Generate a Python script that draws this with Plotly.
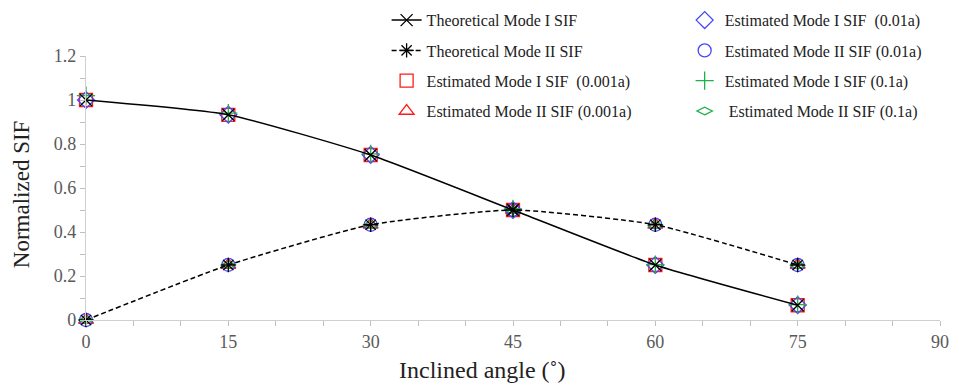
import plotly.graph_objects as go

angles = [0, 15, 30, 45, 60, 75]
theo_mode1 = [1.0, 0.933, 0.75, 0.5, 0.25, 0.067]
theo_mode2 = [0.0, 0.25, 0.433, 0.5, 0.433, 0.25]
est1_0001 = [1.0, 0.932, 0.75, 0.5, 0.25, 0.067]
est2_0001 = [0.0, 0.25, 0.433, 0.5, 0.433, 0.25]
est1_001 = [1.0, 0.933, 0.751, 0.5, 0.25, 0.068]
est2_001 = [0.0, 0.251, 0.433, 0.5, 0.433, 0.25]
est1_01 = [1.02, 0.94, 0.755, 0.505, 0.252, 0.07]
est2_01 = [0.0, 0.25, 0.432, 0.498, 0.43, 0.248]

FONT = "Liberation Serif"
fig = go.Figure()

def add(name, y, symbol, color, size, legend, group, rank, line=None, lw=1.3):
    mode = "lines+markers" if line else "markers"
    fig.add_trace(go.Scatter(
        x=angles, y=y, name=name, mode=mode, legend=legend, legendgroup=group, legendrank=rank,
        line=dict(color="black", width=1.5, dash=line, shape="spline", smoothing=0.5) if line else None,
        marker=dict(symbol=symbol, size=size, color=color, line=dict(color=color, width=lw)),
        cliponaxis=False))

add("Estimated Mode I SIF  (0.001a)", est1_0001, "square-open", "#ff1a1a", 13, "legend", "c", 3)
add("Estimated Mode II SIF (0.001a)", est2_0001, "triangle-up-open", "#ff1a1a", 13, "legend", "d", 4)
add("Estimated Mode I SIF  (0.01a)", est1_001, "diamond-open", "#4646ff", 13, "legend2", "e", 1)
add("Estimated Mode II SIF (0.01a)", est2_001, "circle-open", "#4646ff", 13, "legend2", "f", 2)
add("Estimated Mode I SIF (0.1a)", est1_01, "cross-thin-open", "#1fb04a", 13, "legend2", "g", 3)
add(" Estimated Mode II SIF (0.1a)", est2_01, "diamond-wide-open", "#1fb04a", 11, "legend2", "h", 4)
add("Theoretical Mode I SIF", theo_mode1, "x-thin-open", "black", 12, "legend", "a", 1, line="solid")
add("Theoretical Mode II SIF", theo_mode2, "asterisk-open", "black", 12, "legend", "b", 2, line="5px,3px")

legend_common = dict(font=dict(family=FONT, size=16, color="#222"), bgcolor="rgba(0,0,0,0)",
                     tracegroupgap=6.5, yanchor="top", xanchor="left", traceorder="grouped",
                     itemwidth=30)
fig.update_layout(
    width=951, height=377,
    margin=dict(l=78, r=19, t=48, b=65, autoexpand=False),
    paper_bgcolor="white", plot_bgcolor="white",
    font=dict(family=FONT),
    legend=dict(x=0.352, y=1.20, **legend_common),
    legend2=dict(x=0.701, y=1.20, **legend_common),
    showlegend=True,
    annotations=[
        dict(text="Inclined angle (˚)", xref="paper", yref="paper", x=0.464, y=-0.189,
             xanchor="center", yanchor="middle", showarrow=False,
             font=dict(family=FONT, size=24, color="#222")),
        dict(text="Normalized SIF", xref="paper", yref="paper", x=-0.076, y=0.477,
             xanchor="center", yanchor="middle", showarrow=False, textangle=-90,
             font=dict(family=FONT, size=23, color="#222")),
    ],
)
fig.update_xaxes(range=[0, 90], tickvals=[0, 15, 30, 45, 60, 75, 90],
                 ticks="outside", ticklen=5, tickcolor="#bfbfbf",
                 minor=dict(dtick=5, tick0=0, ticks="outside", ticklen=5, tickcolor="#bfbfbf"),
                 showline=True, linecolor="#d0d0d0", linewidth=1.3, showgrid=False, zeroline=False,
                 tickfont=dict(family=FONT, size=18, color="#595959"))
fig.update_yaxes(range=[0, 1.2], tickvals=[0, 0.2, 0.4, 0.6, 0.8, 1.0, 1.2],
                 ticktext=["0", "0.2", "0.4", "0.6", "0.8", "1", "1.2"],
                 ticks="outside", ticklen=5, tickcolor="#bfbfbf",
                 minor=dict(dtick=0.1, tick0=0, ticks="outside", ticklen=5, tickcolor="#bfbfbf"),
                 showline=True, linecolor="#d0d0d0", linewidth=1.3, showgrid=False, zeroline=False,
                 tickfont=dict(family=FONT, size=18, color="#595959"))

fig.write_html("out.html")
